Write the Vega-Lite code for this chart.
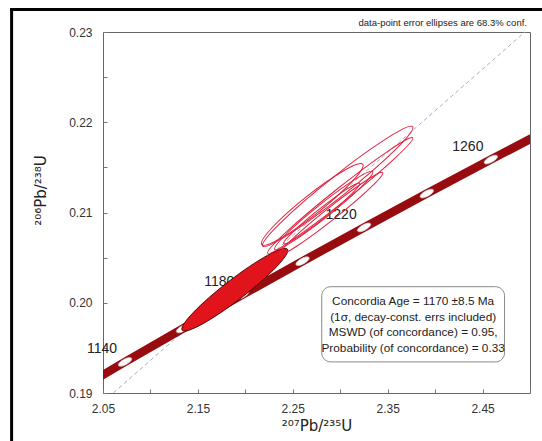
{
  "$schema": "https://vega.github.io/schema/vega-lite/v6.json",
  "autosize": {"type": "none"},
  "padding": {"left": 103, "top": 32, "right": 12, "bottom": 48},
  "width": 427,
  "height": 361,
  "background": "white",
  "config": {
    "view": {"stroke": "#666666", "strokeWidth": 1},
    "font": "Liberation Sans"
  },
  "datasets": {
    "concordia": [
      {"age": 1120, "x": 2.01329, "y": 0.189746},
      {"age": 1140, "x": 2.07323, "y": 0.193441},
      {"age": 1160, "x": 2.13436, "y": 0.197151},
      {"age": 1180, "x": 2.19671, "y": 0.200871},
      {"age": 1200, "x": 2.26030, "y": 0.204603},
      {"age": 1220, "x": 2.32516, "y": 0.208346},
      {"age": 1240, "x": 2.39131, "y": 0.212101},
      {"age": 1260, "x": 2.45876, "y": 0.215868},
      {"age": 1280, "x": 2.52756, "y": 0.219645}
    ],
    "ellipses": [
      {"id": "E1", "x": 2.29737, "y": 0.212889, "sx": 0.07895},
      {"id": "E2", "x": 2.30000, "y": 0.211889, "sx": 0.07632},
      {"id": "E3", "x": 2.27053, "y": 0.210889, "sx": 0.05316},
      {"id": "E4", "x": 2.28263, "y": 0.210222, "sx": 0.05158},
      {"id": "E5", "x": 2.29053, "y": 0.209889, "sx": 0.05421},
      {"id": "E6", "x": 2.28053, "y": 0.209889, "sx": 0.04000}
    ],
    "ageEllipse": [
      {"id": "F", "x": 2.18895, "y": 0.201444, "sx": 0.05474}
    ],
    "refLine": [
      {"x": 2.0, "y": 0.1844},
      {"x": 2.55, "y": 0.2351}
    ],
    "box": [
      {"x": 2.28053, "x2": 2.47316, "y": 0.201778, "y2": 0.193444, "cx": 2.37684, "cy": 0.20016}
    ],
    "note": [
      {"x": 2.4968, "y": 0.231, "text": "data-point error ellipses are 68.3% conf."}
    ],
    "frame": [
      {"x": 1.95368, "x2": 2.6, "y": 0.2325, "y2": 0.17}
    ]
  },
  "layer": [
    {
      "data": {"name": "refLine"},
      "mark": {"type": "line", "clip": true, "color": "#a3adc8", "strokeWidth": 1, "strokeDash": [4, 3]},
      "encoding": {
        "x": {"field": "x", "type": "quantitative",
          "scale": {"domain": [2.05, 2.5], "nice": false, "zero": false},
          "axis": {
            "values": [2.05, 2.1, 2.15, 2.2, 2.25, 2.3, 2.35, 2.4, 2.45, 2.5],
            "labelExpr": "(round(datum.value*100) % 10 == 5) ? format(datum.value, '.2f') : ''",
            "title": "²⁰⁷Pb/²³⁵U",
            "grid": false, "domain": false,
            "tickSize": -4, "tickColor": "#777777",
            "labelPadding": 14, "labelFlush": false, "labelOverlap": false,
            "labelFontSize": 12, "labelColor": "#333333", "labelFont": "Liberation Sans",
            "titleFontSize": 15, "titleFontWeight": "normal", "titleColor": "#222222", "titleFont": "DejaVu Sans",
            "titlePadding": 4
          }},
        "y": {"field": "y", "type": "quantitative",
          "scale": {"domain": [0.19, 0.23], "nice": false, "zero": false},
          "axis": {
            "values": [0.19, 0.195, 0.2, 0.205, 0.21, 0.215, 0.22, 0.225, 0.23],
            "labelExpr": "(round(datum.value*1000) % 10 == 0) ? format(datum.value, '.2f') : ''",
            "title": "²⁰⁶Pb/²³⁸U",
            "grid": false, "domain": false,
            "tickSize": -4, "tickColor": "#777777",
            "labelPadding": 15, "labelFlush": false, "labelOverlap": false,
            "labelFontSize": 12, "labelColor": "#333333", "labelFont": "Liberation Sans",
            "titleFontSize": 15, "titleFontWeight": "normal", "titleColor": "#222222", "titleFont": "DejaVu Sans",
            "titleY": 158, "titleX": -55
          }}
      }
    },
    {
      "data": {"name": "concordia"},
      "mark": {"type": "line", "clip": true, "color": "#980c10", "strokeWidth": 8.5, "strokeCap": "butt"},
      "encoding": {
        "x": {"field": "x", "type": "quantitative"},
        "y": {"field": "y", "type": "quantitative"},
        "order": {"field": "age"}
      }
    },
    {
      "data": {"name": "concordia"},
      "transform": [{"filter": "datum.age >= 1140 && datum.age <= 1260"}],
      "mark": {"type": "point", "filled": true, "fill": "white", "fillOpacity": 1, "stroke": "#c8c8c8", "strokeWidth": 0.6,
        "shape": "M-1,0A1,0.38 0 1,1 1,0A1,0.38 0 1,1 -1,0Z", "size": 225, "angle": -29},
      "encoding": {
        "x": {"field": "x", "type": "quantitative"},
        "y": {"field": "y", "type": "quantitative"}
      }
    },
    {
      "data": {"name": "concordia"},
      "transform": [{"filter": "datum.age % 40 == 20 && datum.age >= 1140 && datum.age <= 1260"}],
      "mark": {"type": "text", "fontSize": 14, "font": "Liberation Sans", "color": "#222222", "dx": -23, "dy": -12.5},
      "encoding": {
        "x": {"field": "x", "type": "quantitative"},
        "y": {"field": "y", "type": "quantitative"},
        "text": {"field": "age", "type": "nominal"}
      }
    },
    {
      "data": {"name": "ageEllipse"},
      "mark": {"type": "point", "filled": true, "fill": "#e2141b", "fillOpacity": 1, "stroke": "#3a0000", "strokeWidth": 0.8,
        "shape": "M-1,0A1,0.155 0 1,1 1,0A1,0.155 0 1,1 -1,0Z", "angle": -37.6},
      "encoding": {
        "x": {"field": "x", "type": "quantitative"},
        "y": {"field": "y", "type": "quantitative"},
        "size": {"field": "sx", "type": "quantitative", "legend": null,
          "scale": {"type": "pow", "exponent": 2, "domain": [0, 0.1], "range": [0, 58942], "zero": true}}
      }
    },
    {
      "data": {"name": "ellipses"},
      "mark": {"type": "point", "filled": false, "stroke": "#e0203c", "strokeWidth": 1, "opacity": 1, "angle": -38.5},
      "encoding": {
        "x": {"field": "x", "type": "quantitative"},
        "y": {"field": "y", "type": "quantitative"},
        "size": {"field": "sx", "type": "quantitative", "legend": null,
          "scale": {"type": "pow", "exponent": 2, "domain": [0, 0.1], "range": [0, 58942], "zero": true}},
        "shape": {"field": "id", "type": "nominal", "legend": null,
          "scale": {"domain": ["E1", "E2", "E3", "E4", "E5", "E6"],
            "range": [
              "M-1,0A1,0.105 0 1,1 1,0A1,0.105 0 1,1 -1,0Z",
              "M-1,0A1,0.075 0 1,1 1,0A1,0.075 0 1,1 -1,0Z",
              "M-1,0A1,0.15 0 1,1 1,0A1,0.15 0 1,1 -1,0Z",
              "M-1,0A1,0.11 0 1,1 1,0A1,0.11 0 1,1 -1,0Z",
              "M-1,0A1,0.09 0 1,1 1,0A1,0.09 0 1,1 -1,0Z",
              "M-1,0A1,0.1 0 1,1 1,0A1,0.1 0 1,1 -1,0Z"
            ]}}
      }
    },
    {
      "data": {"name": "box"},
      "mark": {"type": "rect", "fill": "#cfcfcf", "cornerRadius": 9, "xOffset": 3, "yOffset": 3},
      "encoding": {
        "x": {"field": "x", "type": "quantitative"},
        "x2": {"field": "x2"},
        "y": {"field": "y", "type": "quantitative"},
        "y2": {"field": "y2"}
      }
    },
    {
      "data": {"name": "box"},
      "mark": {"type": "rect", "fill": "white", "stroke": "#8a8a8a", "strokeWidth": 1, "cornerRadius": 9},
      "encoding": {
        "x": {"field": "x", "type": "quantitative"},
        "x2": {"field": "x2"},
        "y": {"field": "y", "type": "quantitative"},
        "y2": {"field": "y2"}
      }
    },
    {
      "data": {"name": "box"},
      "mark": {"type": "text", "fontSize": 11.8, "font": "Liberation Sans", "color": "#222222", "align": "center", "baseline": "middle", "lineHeight": 15.5,
        "text": ["Concordia Age = 1170 ±8.5 Ma", "(1σ, decay-const. errs included)", "MSWD (of concordance) = 0.95,", "Probability  (of concordance) = 0.33"]},
      "encoding": {
        "x": {"field": "cx", "type": "quantitative"},
        "y": {"field": "cy", "type": "quantitative"}
      }
    },
    {
      "data": {"name": "note"},
      "mark": {"type": "text", "fontSize": 9.5, "font": "Liberation Sans", "color": "#222222", "align": "right", "baseline": "middle"},
      "encoding": {
        "x": {"field": "x", "type": "quantitative"},
        "y": {"field": "y", "type": "quantitative"},
        "text": {"field": "text", "type": "nominal"}
      }
    },
    {
      "data": {"name": "frame"},
      "mark": {"type": "rule", "color": "black", "strokeWidth": 3, "strokeCap": "square"},
      "encoding": {
        "x": {"field": "x", "type": "quantitative"},
        "y": {"field": "y", "type": "quantitative"},
        "y2": {"field": "y2"}
      }
    },
    {
      "data": {"name": "frame"},
      "mark": {"type": "rule", "color": "black", "strokeWidth": 3, "strokeCap": "square"},
      "encoding": {
        "x": {"field": "x", "type": "quantitative"},
        "x2": {"field": "x2"},
        "y": {"field": "y", "type": "quantitative"}
      }
    }
  ]
}
